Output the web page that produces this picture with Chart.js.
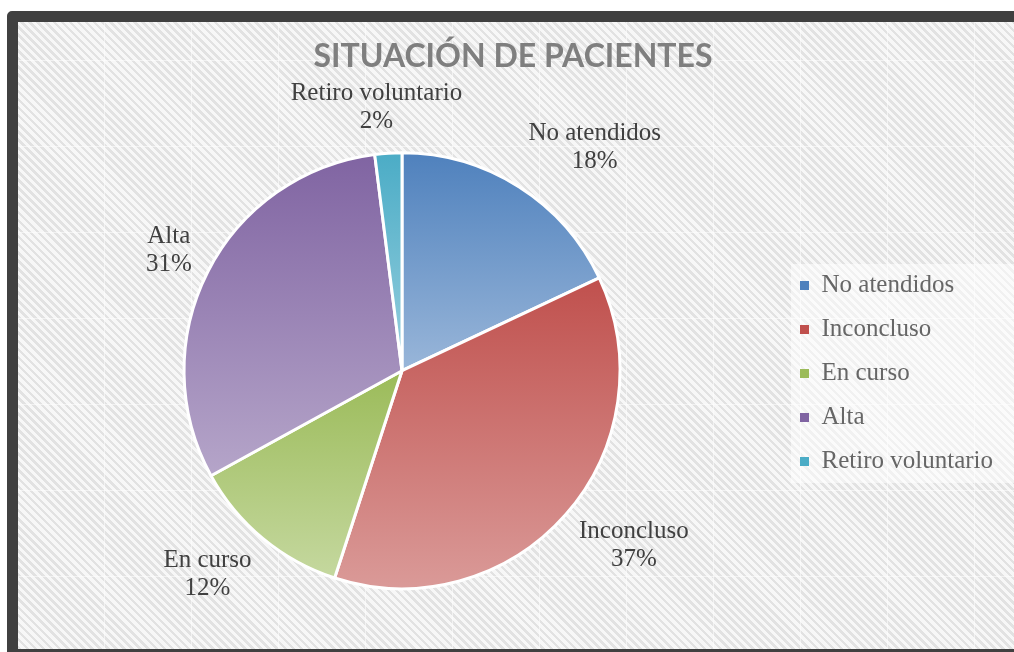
<!DOCTYPE html>
<html lang="es">
<head>
  <meta charset="UTF-8" />
  <title>Situación de pacientes</title>
  <script src="https://cdn.jsdelivr.net/npm/chart.js"></script>
  <style>
    html, body { margin: 0; padding: 0; background: #fff; overflow: hidden; }
    /* dark frame of the chart object, cut off on the right like the picture */
    .frame {
      position: absolute; left: 7px; top: 11px;
      width: 1100px; height: 627px;
      border: 11px solid #404040; border-radius: 5px;
      background:
        repeating-linear-gradient(90deg, transparent 0 86px, rgba(255,255,255,.55) 86px 87px),
        repeating-linear-gradient(180deg, transparent 0 85px, rgba(255,255,255,.55) 85px 86px),
        repeating-linear-gradient(45deg, #e2e2e2 0 2.6px, #f7f7f7 2.6px 5.7px);
      background-position: 0 0, 0 -47px, 0 0;
    }
    .frame canvas { position: absolute; left: 0; top: 0; }
  </style>
</head>
<body>
  <div class="frame">
    <canvas id="pie" width="996" height="627"></canvas>
  </div>

  <script>
    // chart data
    const categories = ["No atendidos", "Inconcluso", "En curso", "Alta", "Retiro voluntario"];
    const values = [18, 37, 12, 31, 2];
    const baseColors = ["#4f81bd", "#c0504d", "#9bbb59", "#8064a2", "#4bacc6"];

    const RADIUS = 218;
    const labelFont = "25px 'Liberation Serif', serif";
    const textColor = "#404040";

    function lighten(hex, amt) {
      const n = parseInt(hex.slice(1), 16);
      const r = (n >> 16) & 255, g = (n >> 8) & 255, b = n & 255;
      const m = c => Math.round(c + (255 - c) * amt);
      return `rgb(${m(r)},${m(g)},${m(b)})`;
    }

    // each slice gets its own top-to-bottom gradient, like the Office style
    function sliceFill(ctx) {
      const chart = ctx.chart;
      const area = chart.chartArea;
      const i = ctx.dataIndex;
      if (!area) return baseColors[i];
      const total = values.reduce((a, b) => a + b, 0);
      let before = 0;
      for (let j = 0; j < i; j++) before += values[j];
      const a0 = -Math.PI / 2 + 2 * Math.PI * before / total;
      const a1 = a0 + 2 * Math.PI * values[i] / total;
      const cy = (area.top + area.bottom) / 2;
      const ys = [cy, cy + RADIUS * Math.sin(a0), cy + RADIUS * Math.sin(a1)];
      [-Math.PI / 2, Math.PI / 2, 3 * Math.PI / 2].forEach(k => {
        if (k >= a0 && k <= a1) ys.push(cy + RADIUS * Math.sin(k));
      });
      const g = chart.ctx.createLinearGradient(0, Math.min(...ys), 0, Math.max(...ys));
      g.addColorStop(0, baseColors[i]);
      g.addColorStop(1, lighten(baseColors[i], 0.42));
      return g;
    }

    // light box behind the legend
    const legendBack = {
      id: "legendBack",
      beforeDraw(chart) {
        const boxes = chart.legend && chart.legend.legendHitBoxes;
        if (!boxes || !boxes.length) return;
        const l = Math.min(...boxes.map(b => b.left)) - 9;
        const t = Math.min(...boxes.map(b => b.top)) - 9;
        const r = chart.width;
        const b = Math.max(...boxes.map(b => b.top + b.height)) + 9;
        const c = chart.ctx;
        c.save();
        c.fillStyle = "rgba(255,255,255,0.5)";
        c.fillRect(l, t, r - l, b - t);
        c.restore();
      }
    };

    // category + percent labels outside each slice (best-fit style:
    // the box side facing the pie sits on a ring just outside the slice)
    const outsideLabels = {
      id: "outsideLabels",
      afterDatasetsDraw(chart) {
        const c = chart.ctx;
        const meta = chart.getDatasetMeta(0);
        const total = values.reduce((a, b) => a + b, 0);
        const clamp = v => Math.max(-1, Math.min(1, v));
        c.save();
        c.font = labelFont;
        c.fillStyle = textColor;
        c.textAlign = "center";
        c.textBaseline = "middle";
        const lineH = 28;
        meta.data.forEach((arc, i) => {
          const p = arc.getProps(["x", "y", "startAngle", "endAngle", "outerRadius"], true);
          const mid = (p.startAngle + p.endAngle) / 2;
          const dx = Math.cos(mid), dy = Math.sin(mid);
          const lines = [categories[i], Math.round(values[i] / total * 100) + "%"];
          const hw = Math.max(...lines.map(s => c.measureText(s).width)) / 2;
          const hh = lineH;
          const ring = p.outerRadius + 18;
          const x = p.x + dx * ring + clamp(dx * 2) * hw;
          const y = p.y + dy * ring + dy * hh;
          c.fillText(lines[0], x, y - lineH / 2);
          c.fillText(lines[1], x, y + lineH / 2);
        });
        c.restore();
      }
    };

    new Chart(document.getElementById("pie").getContext("2d"), {
      type: "pie",
      data: {
        labels: categories,
        datasets: [{
          data: values,
          backgroundColor: sliceFill,
          borderColor: "#ffffff",
          borderWidth: 3,
          radius: RADIUS
        }]
      },
      options: {
        responsive: false,
        animation: false,
        layout: { padding: { left: 5, right: 11, top: 0, bottom: 0 } },
        plugins: {
          title: {
            display: true,
            text: "SITUACIÓN DE PACIENTES",
            color: "#7f7f7f",
            font: { family: "Lato", size: 32, weight: "bold", lineHeight: 1.2 },
            padding: { top: 15, bottom: 17 }
          },
          legend: {
            position: "right",
            title: { display: true, text: " ", padding: 26, font: { size: 20 } },
            labels: {
              color: textColor,
              font: { family: "'Liberation Serif'", size: 25 },
              boxWidth: 9,
              boxHeight: 9,
              padding: 19,
              generateLabels: chart => categories.map((name, i) => ({
                text: name,
                fillStyle: baseColors[i],
                strokeStyle: "#ffffff",
                lineWidth: 0,
                index: i
              }))
            }
          },
          tooltip: { enabled: false }
        }
      },
      plugins: [legendBack, outsideLabels]
    });
  </script>
</body>
</html>
